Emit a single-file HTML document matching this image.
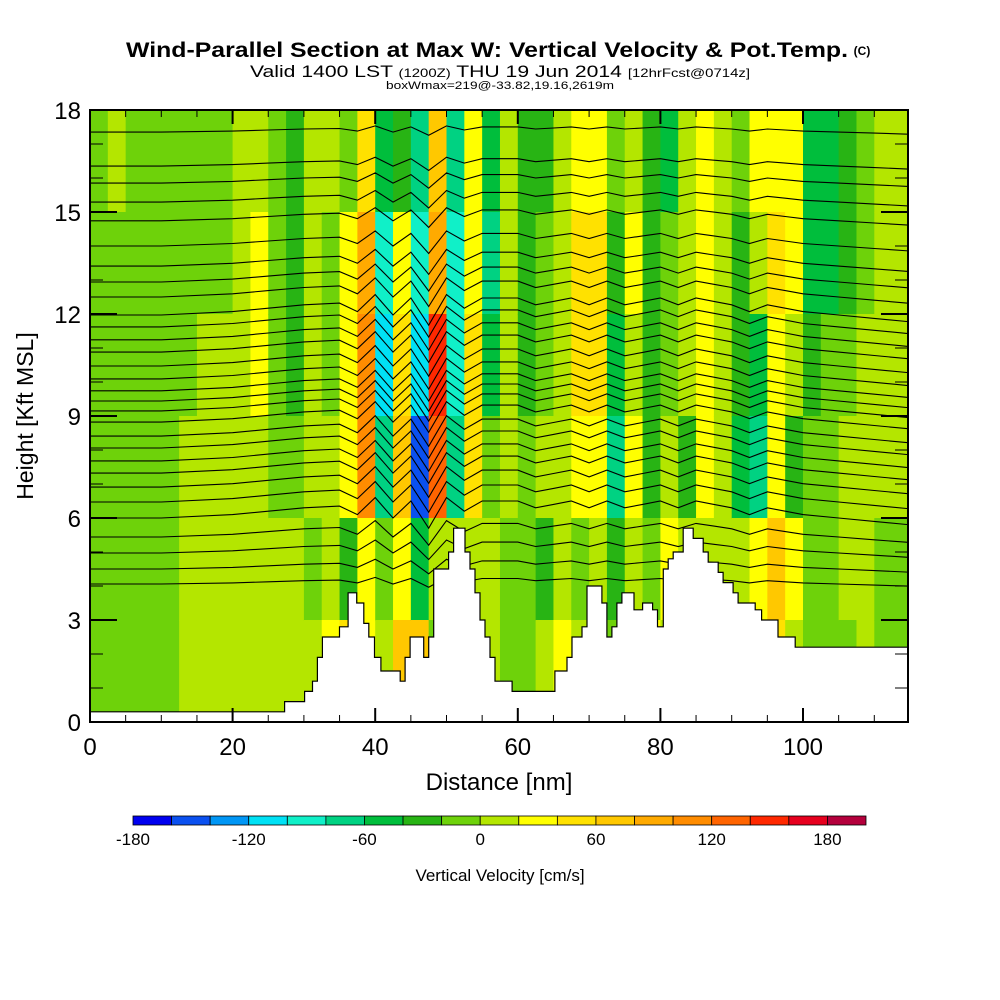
<!DOCTYPE html>
<html><head><meta charset="utf-8"><style>
body{margin:0;background:#fff}
svg{display:block;font-family:"Liberation Sans",sans-serif}
</style></head><body>
<svg id="chart" width="1000" height="1000" viewBox="0 0 1000 1000">
<text x="487" y="57" font-size="21" font-weight="bold" text-anchor="middle" textLength="722" lengthAdjust="spacingAndGlyphs">Wind-Parallel Section at Max W: Vertical Velocity &amp; Pot.Temp.</text>
<text x="862" y="55" font-size="12" font-weight="bold" text-anchor="middle">(C)</text>
<text x="500" y="77" font-size="17" text-anchor="middle" textLength="500" lengthAdjust="spacingAndGlyphs">Valid 1400 LST <tspan font-size="12">(1200Z)</tspan> THU 19 Jun 2014 <tspan font-size="12">[12hrFcst@0714z]</tspan></text>
<text x="500" y="89" font-size="11" text-anchor="middle" textLength="228" lengthAdjust="spacingAndGlyphs">boxWmax=219@-33.82,19.16,2619m</text>
<defs><clipPath id="pc"><rect x="90" y="110" width="818" height="612"/></clipPath></defs>
<g id="cells" clip-path="url(#pc)"></g>
<g id="lines" clip-path="url(#pc)"></g>
<g id="terrain" clip-path="url(#pc)"></g>
<rect x="90" y="110" width="818" height="612" fill="none" stroke="#000" stroke-width="2"/>
<g id="axes"></g>
<text transform="translate(33,416) rotate(-90)" font-size="23" text-anchor="middle">Height [Kft MSL]</text>
<text x="499" y="790" font-size="24" text-anchor="middle">Distance [nm]</text>
<g id="cbar"></g>
<text x="500" y="881" font-size="17" text-anchor="middle">Vertical Velocity [cm/s]</text>
</svg>
<script>
const palette=["#0000f0","#0a50f0","#0096f5","#00e1f5","#10f0c8","#00d282","#00be3c","#28b414","#6ed20a","#b4e600","#ffff00","#ffe100","#ffc800","#ffaa00","#ff8c00","#ff6400","#ff2800","#e6001e","#b4003c"];
const cbarLabels=[-180,-120,-60,0,60,120,180];
const colWidthNm=2.5;
const rowTopsKft=[18,15,12,9,6,3];
// w (cm/s) per column, rows top->bottom
const wGrid=[
[-10,-10,-10,-10,-10,-10],[10,-10,-10,-10,-10,-10],[-10,-10,-10,-10,-10,-10],[-10,-10,-10,-10,-10,-10],
[-10,-10,-10,-10,-10,-10],[-10,-10,-10,10,10,10],[-10,-10,10,10,10,10],[-10,-10,10,10,10,10],
[10,10,10,10,10,10],[10,30,30,10,10,10],[-10,-10,-10,-10,10,10],[-30,-30,-30,-10,10,10],
[10,10,10,10,-10,10],[10,-10,-10,10,10,30],[-10,30,30,30,-30,50],[50,80,100,100,30,30],
[-50,-90,-110,-70,-10,10],[-30,30,50,70,30,70],[-70,-90,-110,-150,-50,70],[70,90,150,130,10,-10],
[-70,-90,-90,-70,10,-10],[30,30,50,50,10,-10],[-50,-70,-50,-10,10,10],[10,10,10,10,-10,-10],
[-30,-30,-30,-10,-10,-10],[-30,-10,-10,10,-30,10],[10,10,10,10,10,30],[30,50,50,30,-10,10],
[30,50,50,30,10,-10],[-10,-30,-50,-70,-30,-10],[10,30,10,30,10,30],[-30,-30,-30,-30,-10,30],
[-50,-10,-10,10,30,10],[10,10,10,-30,10,-10],[30,30,30,30,10,-10],[10,10,10,10,10,10],
[-10,-30,-30,-50,10,10],[30,10,-50,-70,30,30],[30,50,30,30,70,50],[30,30,10,-30,30,10],
[-50,-50,-30,-10,-10,-10],[-50,-50,-10,-10,-10,-10],[-30,-30,-10,10,10,-10],[-10,-10,10,10,10,10],
[10,10,10,10,-10,-10],[10,10,10,10,-10,-10]];
const thetaBaseKft=[17.35,16.35,15.85,15.29,14.74,14.0,13.41,12.94,12.5,11.97,11.62,11.24,10.88,10.47,10.09,9.74,9.44,9.15,8.82,8.41,8.06,7.68,7.32,6.91,6.47,6.0,5.44,4.97,4.5,4.06];
const dispNm=[0,10,20,25,30,35,37.5,40,42.5,45,47.5,50,52.5,55,57.5,60,62.5,65,67.5,70,72.5,75,77.5,80,82.5,85,87.5,90,92.5,95,97.5,100,105,110,115];
const dispKft=[0,0,0.1,0.2,0.3,0.35,0.1,0.6,0,0.5,-0.3,0.6,0.2,0.5,0.5,0.5,0.3,0.4,0.5,0.3,0.5,0.3,0.4,0.5,0.3,0.5,0.4,0.3,0.1,0.3,0.2,0.1,0,-0.1,-0.2];
const terrainNm=[0,27.3,30.1,31.2,31.9,32.6,35,36.2,37.4,38.4,39.1,39.9,40.8,43.5,44.2,44.9,46.8,47.5,48.2,50.3,51.0,52.6,53.3,54.0,54.7,55.4,56.1,56.8,59.2,65.2,66.9,67.6,69.0,69.7,71.8,72.5,73.2,73.9,74.6,76.3,77.5,78.9,79.6,80.4,81.1,81.8,83.2,84.6,86.0,86.7,88.1,88.8,90.2,90.9,93.3,94.2,96.5,98.9];
const terrainKft=[0.3,0.6,0.9,1.2,1.9,2.5,2.8,3.8,3.5,2.9,2.5,1.9,1.5,1.2,1.9,2.5,1.9,2.5,4.5,5.0,5.7,5.0,4.5,3.8,3.0,2.5,1.9,1.2,0.9,1.5,1.9,2.5,2.8,4.0,3.5,2.5,2.8,3.5,3.8,3.3,3.5,3.3,2.8,4.5,4.8,5.0,5.7,5.4,5.0,4.7,4.4,4.1,3.8,3.5,3.3,3.0,2.5,2.2];
const xTicks=[0,20,40,60,80,100];
const yTicks=[0,3,6,9,12,15,18];

const NS="http://www.w3.org/2000/svg";
const XMAX=114.7;
const sx=nm=>90+nm*7.13;
const sy=k=>722-k*34;
function mk(t,a,p){const e=document.createElementNS(NS,t);for(const k in a)e.setAttribute(k,a[k]);p.appendChild(e);return e;}
function colorOf(w){let i=Math.floor((w+180)/20);i=Math.max(0,Math.min(18,i));return palette[i];}

const cells=document.getElementById('cells');
wGrid.forEach((col,c)=>{col.forEach((w,r)=>{
  const x0=sx(c*colWidthNm),x1=sx(Math.min(XMAX,(c+1)*colWidthNm));
  const el=mk('rect',{x:x0,y:sy(rowTopsKft[r]),width:x1-x0+0.6,height:sy(rowTopsKft[r]-3)-sy(rowTopsKft[r])+0.6,fill:colorOf(w)},cells);
  
  
});});

const lines=document.getElementById('lines');
function ampFactor(b){if(b<6)return Math.max(0.3,0.3+(b-4)*0.35);if(b<=12)return 1;return Math.max(0.3,1-(b-12)*0.13);}
thetaBaseKft.forEach(b=>{
  const f=ampFactor(b);
  const pts=dispNm.map((n,i)=>sx(n).toFixed(1)+','+sy(b+dispKft[i]*f).toFixed(1)).join(' ');
  const el=mk('polyline',{points:pts,fill:'none',stroke:'#000','stroke-width':1.1},lines);
  
  
});

const tg=document.getElementById('terrain');
let d='M'+sx(0)+','+sy(0);
terrainNm.forEach((n,i)=>{d+=' L'+sx(n).toFixed(1)+','+sy(terrainKft[i]).toFixed(1);const nx=i+1<terrainNm.length?terrainNm[i+1]:XMAX+1;d+=' L'+sx(nx).toFixed(1)+','+sy(terrainKft[i]).toFixed(1);});
d+=' L'+sx(XMAX+1)+','+sy(0)+' Z';
const tp=mk('path',{d:d,fill:'#fff',stroke:'#000','stroke-width':1.2},tg);



const ax=document.getElementById('axes');
for(let n=0;n<=XMAX;n+=5){const L=n%20===0?14:7;
  mk('line',{x1:sx(n),x2:sx(n),y1:722,y2:722-L,stroke:'#000','stroke-width':n%20===0?2:1},ax);
  mk('line',{x1:sx(n),x2:sx(n),y1:110,y2:110+L,stroke:'#000','stroke-width':n%20===0?2:1},ax);}
for(let k=0;k<=18;k++){const L=k%3===0?27:13;
  mk('line',{x1:90,x2:90+L,y1:sy(k),y2:sy(k),stroke:'#000','stroke-width':k%3===0?2:1},ax);
  mk('line',{x1:908,x2:908-L,y1:sy(k),y2:sy(k),stroke:'#000','stroke-width':k%3===0?2:1},ax);}
xTicks.forEach(v=>{const t=mk('text',{x:sx(v),y:755,'font-size':24,'text-anchor':'middle'},ax);t.textContent=v;
  
  });
yTicks.forEach(v=>{const t=mk('text',{x:81,y:sy(v)+9,'font-size':24,'text-anchor':'end'},ax);t.textContent=v;
  
  });

const cb=document.getElementById('cbar');
const bw=(866-133)/palette.length;
palette.forEach((c,i)=>{const r=mk('rect',{x:133+i*bw,y:816,width:bw,height:9,fill:c,stroke:'#000','stroke-width':0.8},cb);
  
  });
cbarLabels.forEach(v=>{const t=mk('text',{x:133+(v+180)/20*bw,y:845,'font-size':17,'text-anchor':'middle'},cb);t.textContent=v;
  
  });
</script>
</body></html>
